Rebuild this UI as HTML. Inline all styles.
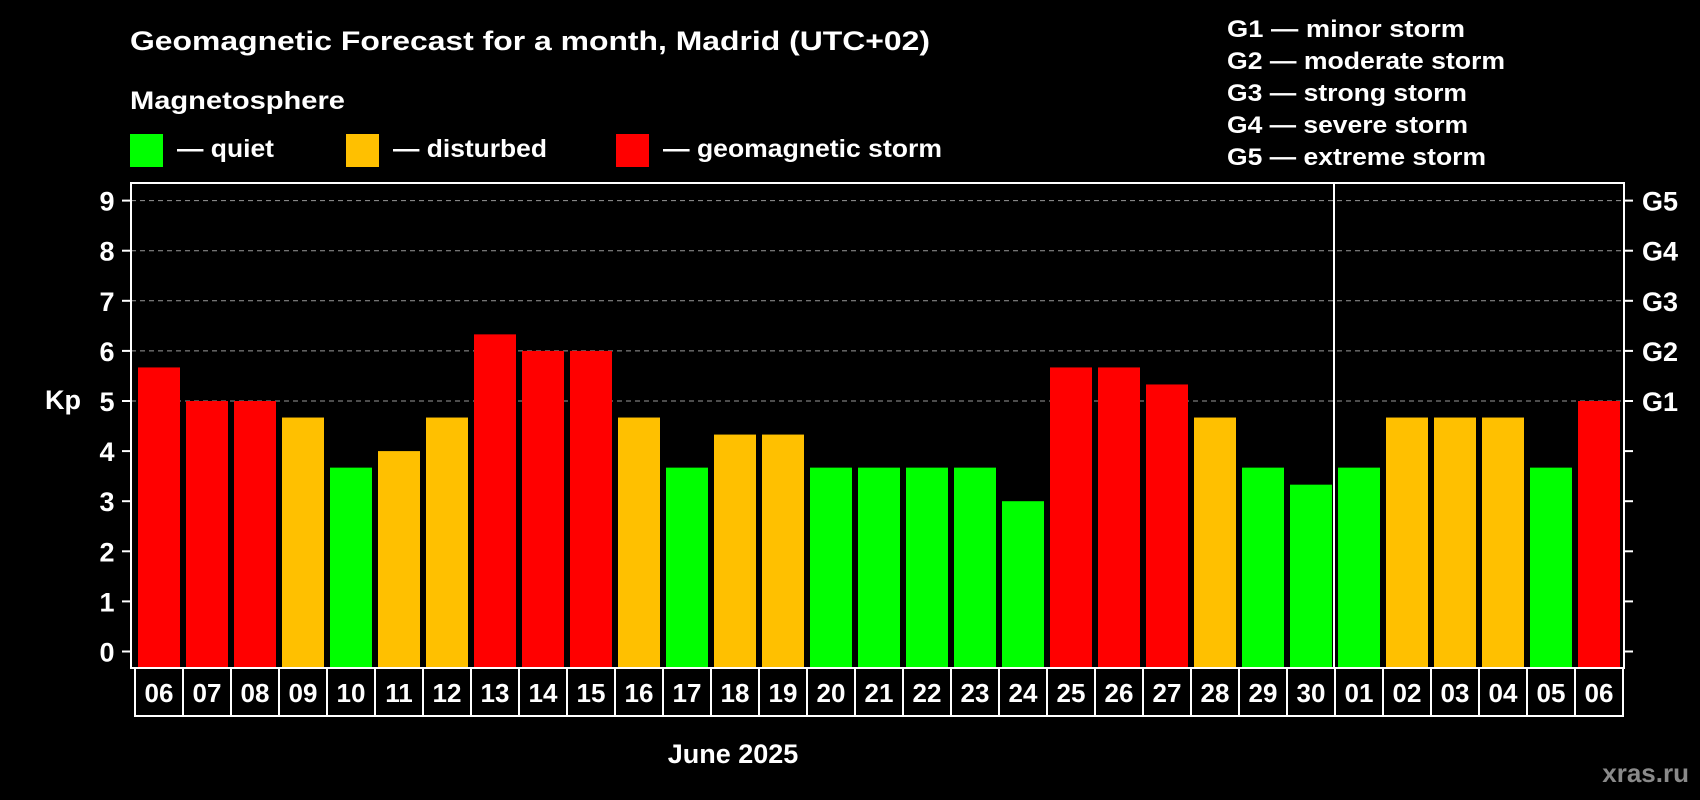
<!DOCTYPE html>
<html><head><meta charset="utf-8"><style>
html,body{margin:0;padding:0;background:#000;}
svg{display:block;font-family:"Liberation Sans",Arial,sans-serif;font-weight:bold;}
</style></head><body>
<svg id="chart" width="1700" height="800" viewBox="0 0 1700 800" xmlns="http://www.w3.org/2000/svg">
<rect width="1700" height="800" fill="#000"/>
<text x="130" y="50" fill="#fff" font-size="27" textLength="800" lengthAdjust="spacingAndGlyphs">Geomagnetic Forecast for a month, Madrid (UTC+02)</text>
<text x="130" y="109" fill="#fff" font-size="25" textLength="215" lengthAdjust="spacingAndGlyphs">Magnetosphere</text>
<g>
<rect x="130" y="134" width="33" height="33" fill="#00ff00"/>
<text x="177" y="157" fill="#fff" font-size="25" textLength="97" lengthAdjust="spacingAndGlyphs">— quiet</text></g>
<g>
<rect x="346" y="134" width="33" height="33" fill="#ffc000"/>
<text x="393" y="157" fill="#fff" font-size="25" textLength="154" lengthAdjust="spacingAndGlyphs">— disturbed</text></g>
<g>
<rect x="616" y="134" width="33" height="33" fill="#ff0000"/>
<text x="663" y="157" fill="#fff" font-size="25" textLength="279" lengthAdjust="spacingAndGlyphs">— geomagnetic storm</text></g>
<g fill="#fff" font-size="24">
<text x="1227" y="37" textLength="238" lengthAdjust="spacingAndGlyphs">G1 — minor storm</text>
<text x="1227" y="69" textLength="278" lengthAdjust="spacingAndGlyphs">G2 — moderate storm</text>
<text x="1227" y="101" textLength="240" lengthAdjust="spacingAndGlyphs">G3 — strong storm</text>
<text x="1227" y="133" textLength="241" lengthAdjust="spacingAndGlyphs">G4 — severe storm</text>
<text x="1227" y="165" textLength="259" lengthAdjust="spacingAndGlyphs">G5 — extreme storm</text>
</g>
<text x="63" y="409" fill="#fff" font-size="27" text-anchor="middle">Kp</text>
<text x="733" y="763" fill="#fff" font-size="27" text-anchor="middle">June 2025</text>
<text x="1689" y="782" fill="#8a8a8a" font-size="26" text-anchor="end">xras.ru</text>
<g id="grid"></g><g id="bars"></g><g id="axes"></g><g id="dates"></g>
</svg>
<script>
const days = ["06","07","08","09","10","11","12","13","14","15","16","17","18","19","20","21","22","23","24","25","26","27","28","29","30","01","02","03","04","05","06"];
const kp = [5.67,5,5,4.67,3.67,4,4.67,6.33,6,6,4.67,3.67,4.33,4.33,3.67,3.67,3.67,3.67,3,5.67,5.67,5.33,4.67,3.67,3.33,3.67,4.67,4.67,4.67,3.67,5];
const yTicks = [0,1,2,3,4,5,6,7,8,9];
const gLabels = ["G1","G2","G3","G4","G5"];
const gLevels = [5,6,7,8,9];
const monthBreakIndex = 25;

const NS="http://www.w3.org/2000/svg";
const L=131,R=1624,T=183,B=668;
const y0=651.5, unit=50.1;
function yScale(v){return y0-v*unit;}
const pitch=48, x0=135;
function xBand(i){return x0+i*pitch;}
function mk(tag,attrs,parent){const e=document.createElementNS(NS,tag);for(const k in attrs)e.setAttribute(k,attrs[k]);parent.appendChild(e);return e;}
const grid=document.getElementById('grid'),bars=document.getElementById('bars'),axes=document.getElementById('axes'),dates=document.getElementById('dates');
gLevels.forEach((v,i)=>{
  const g=mk('line',{x1:L,x2:R,y1:yScale(v),y2:yScale(v),stroke:'#999','stroke-width':1,'stroke-dasharray':'5,4'},grid);
  
  
});
kp.forEach((v,i)=>{
  const c=v>=5?'#ff0000':(v>=4?'#ffc000':'#00ff00');
  const r=mk('rect',{x:xBand(i)+3,y:yScale(v),width:42,height:B-yScale(v),fill:c},bars);
  
  
});
const frame=mk('rect',{x:L,y:T,width:R-L,height:B-T,fill:'none',stroke:'#fff','stroke-width':2},axes);


const sep=mk('line',{x1:xBand(monthBreakIndex)-1,x2:xBand(monthBreakIndex)-1,y1:T,y2:B,stroke:'#fff','stroke-width':2},axes);


yTicks.forEach(v=>{
  const y=yScale(v);
  mk('line',{x1:L-9,x2:L,y1:y,y2:y,stroke:'#fff','stroke-width':2},axes);
  mk('line',{x1:R,x2:R+9,y1:y,y2:y,stroke:'#fff','stroke-width':2},axes);
  const t=mk('text',{x:107,y:y+10,fill:'#fff','font-size':27,'text-anchor':'middle'},axes);
  t.textContent=v;
  
  
});
gLabels.forEach((g,i)=>{
  const t=mk('text',{x:1642,y:yScale(gLevels[i])+10,fill:'#fff','font-size':27},axes);
  t.textContent=g;
  
  
});
days.forEach((d,i)=>{
  const bx=mk('rect',{x:xBand(i),y:B,width:pitch,height:48,fill:'#000',stroke:'#fff','stroke-width':2},dates);
  
  
  const t=mk('text',{x:xBand(i)+pitch/2,y:B+34,fill:'#fff','font-size':26,'text-anchor':'middle'},dates);
  t.textContent=d;
  
  
});
</script>
</body></html>
